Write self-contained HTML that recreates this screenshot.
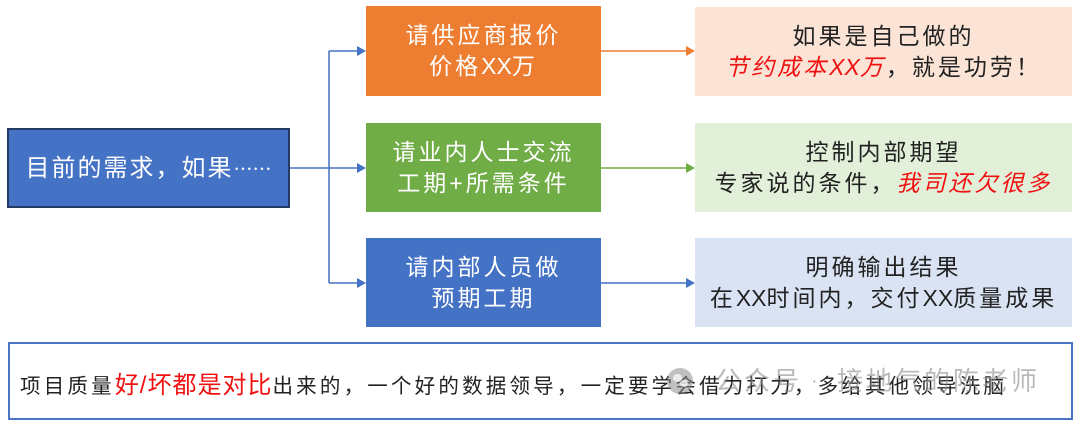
<!DOCTYPE html>
<html><head><meta charset="utf-8"><style>
html,body{margin:0;padding:0;background:#fff;}
body{width:1080px;height:427px;position:relative;overflow:hidden;font-family:"Liberation Sans","Noto Sans CJK SC",sans-serif;}
.box{position:absolute;box-sizing:border-box;display:flex;flex-direction:column;align-items:center;justify-content:center;text-align:center;line-height:31px;white-space:nowrap;}
.mid{left:366px;width:235px;height:90px;color:#fff;font-size:23px;letter-spacing:3px;}
.rt{left:695px;width:377px;height:90px;color:#222;font-size:23px;letter-spacing:3px;}
.red{color:#f01010;font-style:italic;}
.x{letter-spacing:0;}
svg{position:absolute;left:0;top:0;}
</style></head><body>
<svg width="1080" height="427">
<g stroke="#4472C4" stroke-width="1.5" fill="none">
<path d="M290 168 H329 M329 51 V283 M329 51 H358 M329 168 H358 M329 283 H358"/>
</g>
<g fill="#4472C4">
<polygon points="357,46 366,51 357,56"/>
<polygon points="357,163 366,168 357,173"/>
<polygon points="357,278 366,283 357,288"/>
</g>
<line x1="601" y1="51" x2="688" y2="51" stroke="#ED7D31" stroke-width="1.5"/>
<polygon points="686,46 695,51 686,56" fill="#ED7D31"/>
<line x1="601" y1="168" x2="688" y2="168" stroke="#70AD47" stroke-width="1.5"/>
<polygon points="686,163 695,168 686,173" fill="#70AD47"/>
<line x1="601" y1="283" x2="688" y2="283" stroke="#4472C4" stroke-width="1.5"/>
<polygon points="686,278 695,283 686,288" fill="#4472C4"/>
</svg>

<div class="box" style="left:7px;top:128px;width:283px;height:80px;background:#4472C4;border:2px solid #263a66;color:#fff;font-size:24px;letter-spacing:2px;">
<div>目前的需求，如果<span style="font-family:'Noto Sans CJK SC',sans-serif;font-size:19px;letter-spacing:0;">……</span></div>
</div>

<div class="box mid" style="top:6px;background:#ED7D31;"><div>请供应商报价</div><div>价格<span class="x">XX</span>万</div></div>
<div class="box mid" style="top:123px;height:89px;background:#70AD47;"><div>请业内人士交流</div><div>工期+所需条件</div></div>
<div class="box mid" style="top:238px;height:89px;background:#4472C4;"><div>请内部人员做</div><div>预期工期</div></div>

<div class="box rt" style="top:7px;height:89px;background:#FBE3D5;"><div>如果是自己做的</div><div><span class="red">节约成本<span class="x">XX</span>万</span>，就是功劳！</div></div>
<div class="box rt" style="top:123px;height:89px;background:#E2F0D9;"><div>控制内部期望</div><div>专家说的条件，<span class="red">我司还欠很多</span></div></div>
<div class="box rt" style="top:238px;height:89px;background:#DAE3F3;"><div>明确输出结果</div><div>在<span class="x">XX</span>时间内，交付<span class="x">XX</span>质量成果</div></div>

<div style="position:absolute;left:8px;top:342px;width:1065px;height:78px;box-sizing:border-box;border:2px solid #4a74c4;background:#fff;"></div>
<div style="position:absolute;left:20px;top:369px;height:34px;line-height:34px;white-space:nowrap;font-size:20.5px;letter-spacing:3.2px;color:#222;">项目质量<span style="color:#f01010;font-size:24px;letter-spacing:1px;">好/坏都是对比</span>出来的，一个好的数据领导，一定要学会借力打力，多给其他领导洗脑</div>

<div style="position:absolute;left:667px;top:368px;width:26px;height:26px;border-radius:50%;background:rgba(140,140,140,0.55);"></div>
<div style="position:absolute;left:673px;top:374px;width:9px;height:8px;border-radius:50%;background:rgba(255,255,255,0.7);"></div>
<div style="position:absolute;left:680px;top:380px;width:8px;height:7px;border-radius:50%;background:rgba(255,255,255,0.7);"></div>
<div style="position:absolute;left:715px;top:364px;line-height:34px;font-size:26px;letter-spacing:3px;color:rgba(140,140,140,0.6);white-space:nowrap;">公众号</div>
<div style="position:absolute;left:811px;top:364px;line-height:34px;font-size:20px;color:rgba(140,140,140,0.6);">·</div>
<div style="position:absolute;left:837px;top:364px;line-height:34px;font-size:26px;letter-spacing:3px;color:rgba(140,140,140,0.6);white-space:nowrap;">接地气的陈老师</div>
</body></html>
